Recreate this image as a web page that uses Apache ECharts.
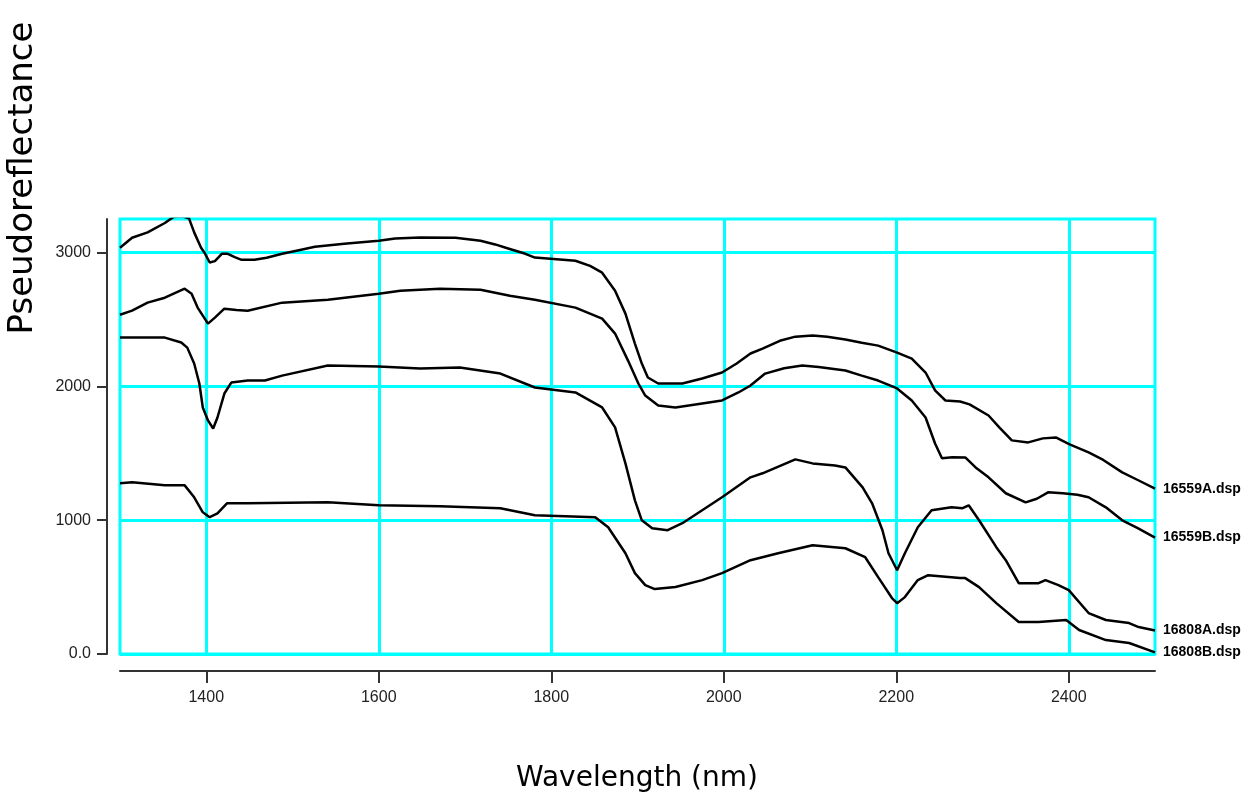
<!DOCTYPE html>
<html>
<head>
<meta charset="utf-8">
<script src="https://cdn.jsdelivr.net/npm/echarts@6/dist/echarts.min.js"></script>
<style>html,body{margin:0;padding:0;background:#fff}#c{width:1260px;height:805px}</style>
</head>
<body>
<div id="c"></div>
<script>
const seriesNames = ['16559A.dsp', '16559B.dsp', '16808A.dsp', '16808B.dsp'];
const xTicks = [1400, 1600, 1800, 2000, 2200, 2400];
const yTicks = [0, 1000, 2000, 3000];

const s16559A = [[1300,3035],[1314,3110],[1332,3150],[1352,3220],[1362,3265],[1372,3270],[1380,3255],[1386,3150],[1394,3035],[1398,2998],[1404,2925],[1410,2935],[1418,2990],[1425,2990],[1433,2965],[1441,2945],[1456,2945],[1470,2960],[1488,2990],[1506,3015],[1526,3042],[1560,3065],[1600,3087],[1619,3105],[1648,3112],[1689,3110],[1718,3087],[1735,3060],[1750,3030],[1770,2990],[1781,2962],[1828,2938],[1845,2900],[1859,2849],[1874,2714],[1886,2543],[1897,2319],[1905,2170],[1912,2066],[1924,2021],[1952,2021],[1975,2058],[1998,2103],[2015,2170],[2031,2245],[2045,2282],[2065,2340],[2083,2371],[2103,2379],[2120,2370],[2141,2349],[2160,2325],[2179,2304],[2201,2252],[2218,2207],[2234,2103],[2245,1969],[2257,1894],[2274,1887],[2285,1865],[2307,1782],[2320,1690],[2334,1596],[2353,1581],[2370,1611],[2385,1618],[2401,1566],[2423,1506],[2440,1450],[2462,1357],[2480,1300],[2500,1235]];

const s16559B = [[1300,2535],[1314,2565],[1332,2625],[1352,2662],[1375,2729],[1383,2692],[1390,2588],[1402,2468],[1410,2513],[1421,2580],[1435,2570],[1448,2565],[1488,2625],[1541,2647],[1600,2692],[1625,2714],[1671,2729],[1718,2722],[1752,2677],[1781,2647],[1828,2588],[1859,2506],[1874,2394],[1889,2192],[1901,2021],[1909,1931],[1924,1857],[1944,1842],[1975,1872],[1998,1894],[2017,1954],[2031,2006],[2048,2095],[2070,2135],[2091,2155],[2110,2145],[2141,2118],[2160,2080],[2179,2043],[2201,1984],[2218,1894],[2234,1767],[2245,1573],[2253,1462],[2265,1470],[2280,1469],[2292,1394],[2307,1320],[2327,1201],[2350,1133],[2363,1160],[2376,1208],[2393,1201],[2410,1190],[2423,1171],[2443,1096],[2462,999],[2480,940],[2500,870]];

const s16808A = [[1300,2364],[1332,2364],[1352,2364],[1371,2327],[1378,2289],[1386,2170],[1392,2021],[1396,1842],[1402,1745],[1408,1685],[1413,1767],[1421,1946],[1429,2028],[1448,2043],[1468,2043],[1488,2080],[1541,2155],[1600,2148],[1648,2133],[1694,2140],[1741,2095],[1781,1991],[1828,1954],[1859,1842],[1874,1693],[1886,1424],[1897,1148],[1905,999],[1917,940],[1935,925],[1952,977],[1975,1074],[1998,1171],[2031,1320],[2045,1350],[2083,1454],[2103,1424],[2129,1409],[2141,1394],[2161,1245],[2172,1126],[2184,925],[2191,753],[2201,626],[2210,753],[2225,947],[2241,1074],[2264,1096],[2277,1089],[2284,1111],[2296,999],[2316,798],[2327,701],[2342,529],[2365,529],[2373,552],[2388,515],[2400,477],[2423,306],[2443,254],[2470,231],[2481,201],[2500,175]];

const s16808B = [[1300,1275],[1314,1283],[1352,1260],[1375,1260],[1386,1171],[1396,1059],[1404,1022],[1413,1051],[1424,1126],[1448,1126],[1541,1133],[1600,1111],[1671,1104],[1741,1089],[1781,1037],[1851,1022],[1866,947],[1886,753],[1897,604],[1909,515],[1920,485],[1944,500],[1975,552],[1998,604],[2031,701],[2063,753],[2103,813],[2141,790],[2164,723],[2179,574],[2195,418],[2201,380],[2210,425],[2225,552],[2237,589],[2274,567],[2280,567],[2296,500],[2316,380],[2342,239],[2365,239],[2397,254],[2412,179],[2443,104],[2470,82],[2500,12]];

const seriesData = [s16559A, s16559B, s16808A, s16808B];

const sans = "'Liberation Sans', Arial, sans-serif";
const chart = echarts.init(document.getElementById('c'), null, {renderer: 'canvas'});
chart.setOption({
  backgroundColor: '#ffffff',
  animation: false,
  grid: {
    left: 120, right: 105, top: 219, bottom: 151,
    show: true, borderColor: '#00ffff', borderWidth: 3, backgroundColor: 'transparent',
    containLabel: false, outerBoundsMode: 'none'
  },
  xAxis: {
    type: 'value', min: 1300, max: 2500, offset: 17,
    axisLine: {show: true, onZero: false, lineStyle: {color: '#333', width: 2}},
    axisTick: {show: true, length: 12, customValues: xTicks, lineStyle: {color: '#333', width: 2}},
    axisLabel: {customValues: xTicks, margin: 19, color: '#222', fontFamily: sans, fontSize: 16,
      formatter: v => String(v)},
    splitLine: {show: true, lineStyle: {color: '#00ffff', width: 3}}
  },
  yAxis: {
    type: 'value', min: 0, max: 3250, interval: 1000, offset: 13,
    axisLine: {show: true, onZero: false, lineStyle: {color: '#333', width: 2}},
    axisTick: {show: true, length: 10, customValues: yTicks, lineStyle: {color: '#333', width: 2}},
    axisLabel: {customValues: yTicks, margin: 16, color: '#222', fontFamily: sans, fontSize: 16,
      formatter: v => v === 0 ? '0.0' : String(v)},
    splitLine: {show: true, lineStyle: {color: '#00ffff', width: 3}}
  },
  graphic: [
    {type: 'text', x: 23, y: 178, rotation: Math.PI / 2,
     style: {text: 'Pseudoreflectance', font: "34px 'DejaVu Sans', sans-serif", fill: '#000', textAlign: 'center', textVerticalAlign: 'middle'}},
    {type: 'text', x: 637, y: 779,
     style: {text: 'Wavelength (nm)', font: "28px 'DejaVu Sans', sans-serif", fill: '#000', textAlign: 'center', textVerticalAlign: 'middle'}}
  ],
  series: seriesNames.map((name, i) => ({
    name: name, type: 'line', data: seriesData[i], symbol: 'none', clip: true,
    lineStyle: {color: '#000', width: 2.5},
    endLabel: {show: true, formatter: '{a}', color: '#000', fontFamily: sans, fontWeight: 'bold', fontSize: 14, distance: 8}
  }))
});
</script>
</body>
</html>
